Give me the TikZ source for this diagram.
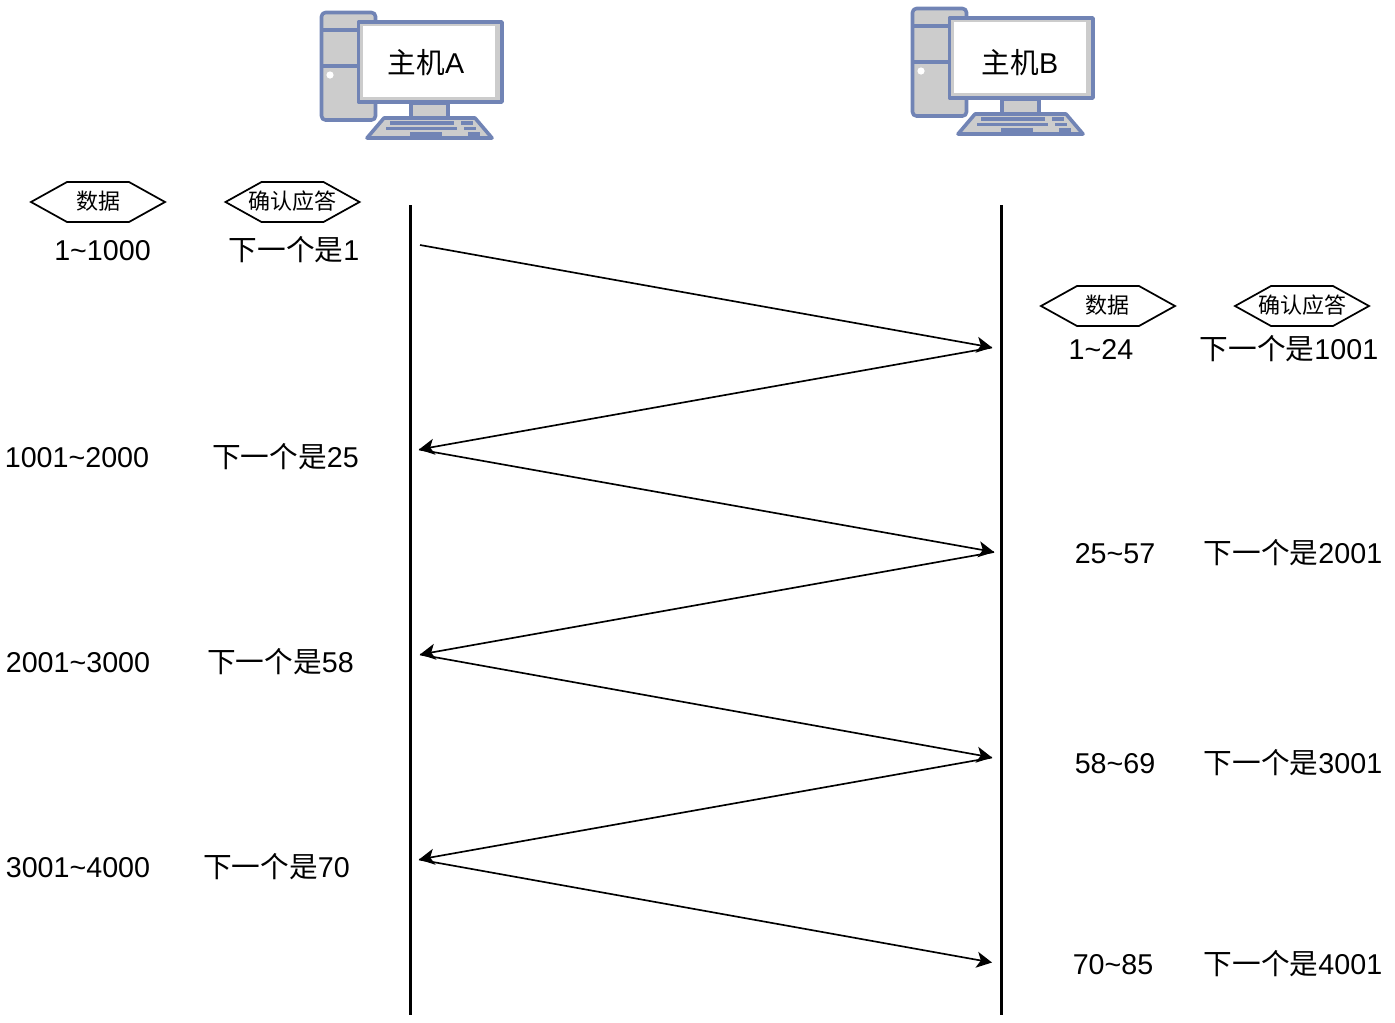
\documentclass[tikz,border=0pt]{standalone}
\usepackage{fontspec}
\setmainfont{Liberation Sans}
\newfontfamily\cjk{Noto Sans CJK SC}
\usetikzlibrary{arrows.meta,calc}
\definecolor{pcblue}{HTML}{7184B5}
\definecolor{pcgray}{HTML}{CCCCCC}
\newcommand{\nx}[2]{{\cjk #1}#2}
\tikzset{
  lab/.style={anchor=base,inner sep=0pt,font=\fontsize{21.5pt}{24pt}\selectfont},
  hexlab/.style={anchor=center,inner sep=0pt,font=\cjk\fontsize{16.5pt}{20pt}\selectfont},
  hexline/.style={draw=black,line width=1.3pt,fill=white},
  lifeline/.style={draw=black,line width=2.7pt},
  msg/.style={draw=black,line width=1.25pt,-{Stealth[length=11.5pt,width=12pt,inset=3pt]}},
  pcline/.style={draw=pcblue,line width=2.7pt,line join=round},
  keybar/.style={draw=none,fill=pcblue},
  computer/.pic={
    \draw[pcline,fill=pcgray,rounded corners=3pt] (321.5,12.5) rectangle (375.5,120);
    \draw[pcline] (321,30) -- (358,30) (321,66) -- (358,66);
    \fill[white] (330,75) circle (2.7pt);
    \draw[pcline,fill=pcgray] (411,103) rectangle (448,118);
    \draw[pcline,fill=pcgray] (384,118) -- (475,118) -- (492,138) -- (367,138) -- cycle;
    \fill[keybar] (390,121) rectangle (454,124.5);
    \fill[keybar] (461,121) rectangle (473,124.5);
    \fill[keybar] (386,126.5) rectangle (457,130);
    \fill[keybar] (464,126.5) rectangle (476,130);
    \fill[keybar] (410,132) rectangle (442,135.5);
    \fill[keybar] (468,132) rectangle (480,135.5);
    \draw[pcline,fill=pcgray] (358.5,22) rectangle (502,102);
    \fill[white] (362.5,26) rectangle (494.5,97);
  }
}
\newcommand{\hexshape}[2]{\draw[hexline] ($(#1,#2)+(-67,0)$) -- ($(#1,#2)+(-31,-20)$) -- ($(#1,#2)+(31,-20)$) -- ($(#1,#2)+(67,0)$) -- ($(#1,#2)+(31,20)$) -- ($(#1,#2)+(-31,20)$) -- cycle;}
\begin{document}
\begin{tikzpicture}[x=0.75pt,y=-0.75pt]
\useasboundingbox (0,0) rectangle (1395,1022);
\pic at (0,0) {computer};
\pic at (591,-4) {computer};
\node[lab] (hostA) at (426,73) {\nx{主机}{A}};
\node[lab] (hostB) at (1020,73) {\nx{主机}{B}};

\hexshape{98}{202}\node[hexlab] (d1) at (98,201.5) {数据};
\hexshape{292.5}{202}\node[hexlab] (c1) at (292,201.5) {确认应答};
\hexshape{1108}{306}\node[hexlab] (d2) at (1107,305.5) {数据};
\hexshape{1302}{306}\node[hexlab] (c2) at (1302,305.5) {确认应答};

\node[lab] (l1) at (102.5,260.3) {1\textasciitilde 1000};
\node[lab] (a1) at (294,260.3) {\nx{下一个是}{1}};
\node[lab] (l2) at (77,467.3) {1001\textasciitilde 2000};
\node[lab] (a2) at (285.5,467.3) {\nx{下一个是}{25}};
\node[lab] (l3) at (78,672.3) {2001\textasciitilde 3000};
\node[lab] (a3) at (280.5,672.3) {\nx{下一个是}{58}};
\node[lab] (l4) at (78,877.3) {3001\textasciitilde 4000};
\node[lab] (a4) at (276.5,877.3) {\nx{下一个是}{70}};

\node[lab] (r1) at (1101,359.3) {1\textasciitilde 24};
\node[lab] (b1) at (1289,359.3) {\nx{下一个是}{1001}};
\node[lab] (r2) at (1115,563.3) {25\textasciitilde 57};
\node[lab] (b2) at (1293,563.3) {\nx{下一个是}{2001}};
\node[lab] (r3) at (1115,773.3) {58\textasciitilde 69};
\node[lab] (b3) at (1293,773.3) {\nx{下一个是}{3001}};
\node[lab] (r4) at (1113,974.3) {70\textasciitilde 85};
\node[lab] (b4) at (1293,974.3) {\nx{下一个是}{4001}};

\coordinate (lifeAtop) at (410.5,205);
\coordinate (lifeAbot) at (410.5,1015);
\coordinate (lifeBtop) at (1001.5,205);
\coordinate (lifeBbot) at (1001.5,1015);
\draw[lifeline] (lifeAtop) -- (lifeAbot);
\draw[lifeline] (lifeBtop) -- (lifeBbot);

\coordinate (p0) at (420,245);
\coordinate (p1) at (992,347.5);
\coordinate (p2) at (419,449.5);
\coordinate (p3) at (994,552);
\coordinate (p4) at (420,654.5);
\coordinate (p5) at (992,757.5);
\coordinate (p6) at (419,859.5);
\coordinate (p7) at (992,962.5);
\draw[msg] (p0) -- (p1);
\draw[msg] (p1) -- (p2);
\draw[msg] (p2) -- (p3);
\draw[msg] (p3) -- (p4);
\draw[msg] (p4) -- (p5);
\draw[msg] (p5) -- (p6);
\draw[msg] (p6) -- (p7);
\end{tikzpicture}
\end{document}
